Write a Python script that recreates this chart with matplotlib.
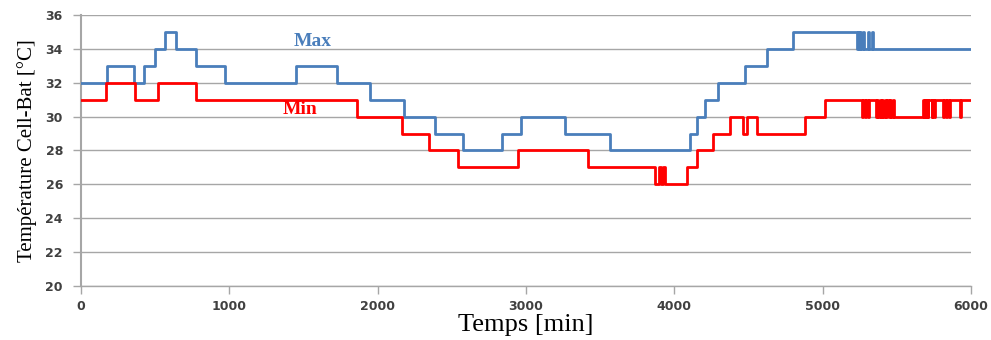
import matplotlib
matplotlib.use('Agg')
import matplotlib.pyplot as plt
import numpy as np

# step data: time [min] where the value starts, value [degC]
max_t = [0, 177, 360, 425, 500, 566, 638, 773, 971, 1450, 1728, 1948, 2180,
         2387, 2573, 2836, 2964, 3263, 3566, 4106, 4155, 4205, 4295, 4477,
         4627, 4798, 5230, 5238, 5246, 5254, 5262, 5270, 5280, 5305, 5312,
         5335, 5342, 6000]
max_v = [32, 33, 32, 33, 34, 35, 34, 33, 32, 33, 32, 31, 30,
         29, 28, 29, 30, 29, 28, 29, 30, 31, 32, 33,
         34, 35, 34, 35, 34, 35, 34, 35, 34, 35, 34,
         35, 34, 34]

min_t = [0, 169, 364, 521, 773, 1858, 2166, 2348, 2544, 2948, 3420, 3870,
         3895, 3912, 3925, 3935, 4083, 4151, 4263, 4375, 4466, 4488, 4555,
         4881, 5016, 5263, 5270, 5286, 5293, 5308, 5314, 5360, 5368, 5376,
         5384, 5392, 5400, 5410, 5418, 5428, 5436, 5446, 5454, 5464, 5472,
         5480, 5679, 5684, 5692, 5697, 5701, 5710, 5714, 5735, 5740, 5748,
         5757, 5813, 5818, 5830, 5836, 5850, 5856, 5928, 5935, 6000]
min_v = [31, 32, 31, 32, 31, 30, 29, 28, 27, 28, 27, 26,
         27, 26, 27, 26, 27, 28, 29, 30, 29, 30, 29,
         30, 31, 30, 31, 30, 31, 30, 31, 30, 31, 30,
         31, 30, 31, 30, 31, 30, 31, 30, 31, 30, 31,
         30, 31, 30, 31, 30, 31, 30, 31, 30, 31, 30,
         31, 30, 31, 30, 31, 30, 31, 30, 31, 31]

x_ticks = [0, 1000, 2000, 3000, 4000, 5000, 6000]
y_ticks = [20, 22, 24, 26, 28, 30, 32, 34, 36]

blue = '#4A7EBB'
red = '#FF0000'
grey = '#A6A6A6'

fig = plt.figure(figsize=(9.91, 3.40), dpi=100)
ax = fig.add_axes([0.0817, 0.159, 0.898, 0.797])

ax.step(max_t, max_v, where='post', color=blue, lw=2.0, zorder=3)
ax.step(min_t, min_v, where='post', color=red, lw=2.0, zorder=3)

ax.set_xlim(0, 6000)
ax.set_ylim(20, 36)
ax.set_xticks(x_ticks)
ax.set_yticks(y_ticks)
ax.yaxis.grid(True, color=grey, lw=1.0)
ax.set_axisbelow(True)

for s in ['top', 'right']:
    ax.spines[s].set_visible(False)
ax.spines['left'].set_color(grey)
ax.spines['left'].set_linewidth(1.5)
ax.spines['bottom'].set_color(grey)
ax.spines['bottom'].set_linewidth(1.0)
ax.tick_params(axis='both', colors=grey, length=6, width=1.0)
ax.tick_params(axis='y', pad=7)
ax.tick_params(axis='x', pad=4)
for lab in ax.get_xticklabels() + ax.get_yticklabels():
    lab.set_color('#404040')
    lab.set_fontsize(9)
    lab.set_fontweight('bold')

ax.set_xlabel('Temps [min]', family='Liberation Serif', fontsize=19, labelpad=1)
ax.set_ylabel('Température Cell-Bat [°C]', family='Liberation Serif',
              fontsize=15, labelpad=6)

ax.text(1560, 34.45, 'Max', color=blue, family='Liberation Serif',
        fontweight='bold', fontsize=14, ha='center', va='center')
ax.text(1480, 30.4, 'Min', color=red, family='Liberation Serif',
        fontweight='bold', fontsize=14, ha='center', va='center')

fig.savefig('out.png', dpi=100)
